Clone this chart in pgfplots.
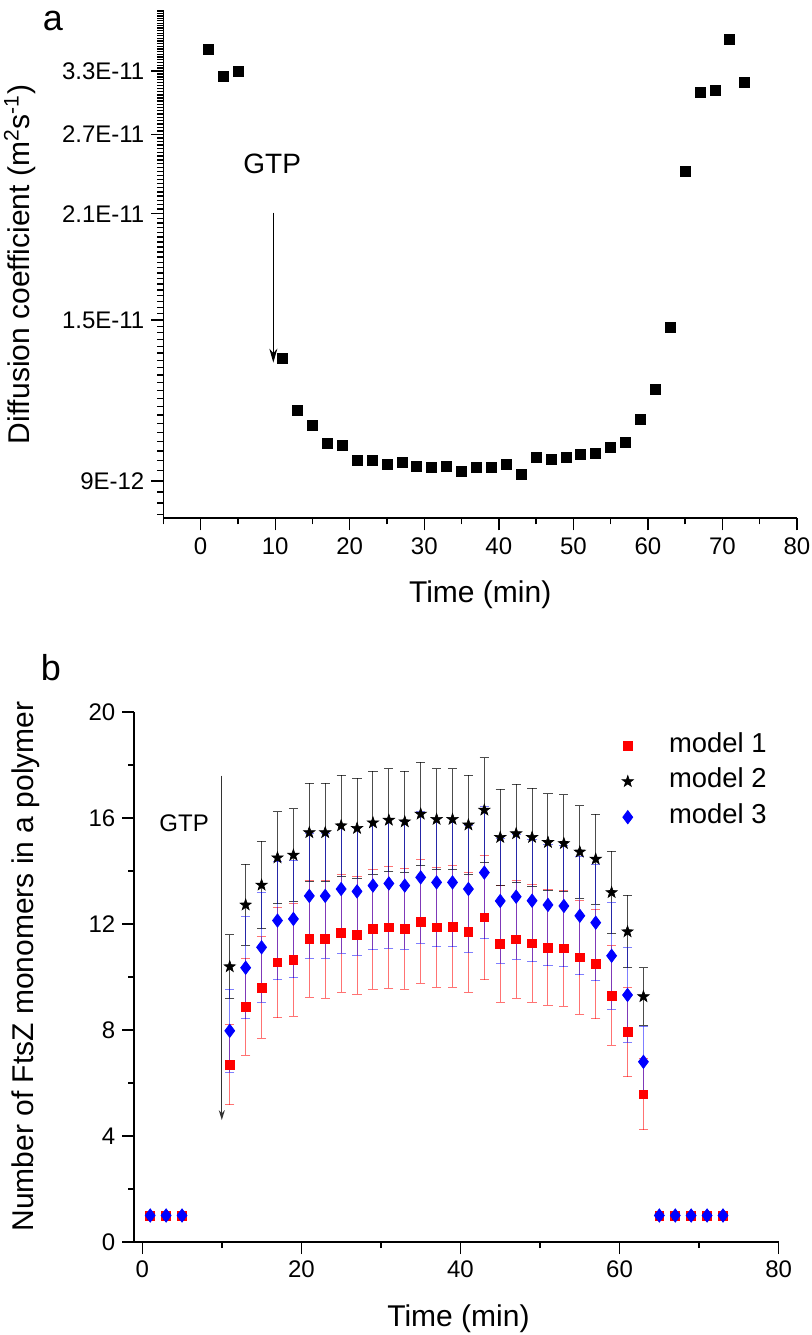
\documentclass[border=0pt]{standalone}
\usepackage{fontspec}
\setmainfont{Liberation Sans}
\usepackage{pgfplots}
\usepackage{pgfplotstable}
\pgfplotsset{compat=1.18}
\usetikzlibrary{arrows.meta}

\pgfdeclareplotmark{fstar}{%
  \pgfpathmoveto{\pgfpointpolar{90}{\pgfplotmarksize}}%
  \pgfpathlineto{\pgfpointpolar{126}{0.4\pgfplotmarksize}}%
  \pgfpathlineto{\pgfpointpolar{162}{\pgfplotmarksize}}%
  \pgfpathlineto{\pgfpointpolar{198}{0.4\pgfplotmarksize}}%
  \pgfpathlineto{\pgfpointpolar{234}{\pgfplotmarksize}}%
  \pgfpathlineto{\pgfpointpolar{270}{0.4\pgfplotmarksize}}%
  \pgfpathlineto{\pgfpointpolar{306}{\pgfplotmarksize}}%
  \pgfpathlineto{\pgfpointpolar{342}{0.4\pgfplotmarksize}}%
  \pgfpathlineto{\pgfpointpolar{18}{\pgfplotmarksize}}%
  \pgfpathlineto{\pgfpointpolar{54}{0.4\pgfplotmarksize}}%
  \pgfpathclose
  \pgfusepathqfillstroke
}

% Panel a: diffusion coefficient in units of 1E-12 m^2/s
\pgfplotstableread{
x y
1 35.3
3 32.45
5 32.94
11 13.29
13 11.26
15 10.74
17 10.14
19 10.08
21 9.62
23 9.62
25 9.50
27 9.54
29 9.44
31 9.41
33 9.44
35 9.28
37 9.40
39 9.40
41 9.50
43 9.20
45 9.71
47 9.64
49 9.71
51 9.80
53 9.83
55 10.02
57 10.16
59 10.95
61 12.05
63 14.67
65 24.0
67 30.8
69 31.0
71 36.5
73 31.8
}\dataA

% Panel b: model values and error bars
\pgfplotstableread{
x y1 e1 y2 e2 y3 e3
11 6.68 1.51 10.39 1.21 7.97 1.57
13 8.87 1.83 12.72 1.53 10.35 1.93
15 9.60 1.91 13.47 1.65 11.12 2.08
17 10.55 2.08 14.50 1.74 12.13 2.23
19 10.64 2.12 14.60 1.75 12.19 2.22
21 11.43 2.20 15.45 1.86 13.06 2.36
23 11.43 2.23 15.45 1.86 13.06 2.36
25 11.65 2.23 15.71 1.90 13.32 2.43
27 11.58 2.23 15.61 1.89 13.23 2.40
29 11.80 2.27 15.82 1.95 13.45 2.43
31 11.87 2.30 15.92 1.94 13.53 2.45
33 11.82 2.29 15.86 1.91 13.45 2.41
35 12.09 2.33 16.15 1.95 13.76 2.49
37 11.87 2.26 15.95 1.91 13.57 2.42
39 11.90 2.29 15.95 1.91 13.57 2.42
41 11.69 2.27 15.74 1.87 13.32 2.38
43 12.25 2.35 16.30 1.98 13.94 2.50
45 11.25 2.21 15.27 1.82 12.87 2.35
47 11.42 2.22 15.41 1.86 13.03 2.36
49 11.27 2.23 15.27 1.85 12.88 2.31
51 11.11 2.18 15.08 1.83 12.72 2.29
53 11.08 2.19 15.04 1.83 12.68 2.29
55 10.74 2.14 14.72 1.75 12.31 2.22
57 10.49 2.07 14.45 1.70 12.05 2.19
59 9.30 1.88 13.19 1.56 10.80 2.01
61 7.92 1.68 11.71 1.37 9.32 1.79
63 5.57 1.34 9.26 1.08 6.80 1.34
}\dataB

\pgfplotstableread{
x y
1 1
3 1
5 1
65 1
67 1
69 1
71 1
73 1
}\dataBase

\pgfplotsset{
  every axis/.append style={
    scale only axis,
    axis x line=bottom, axis y line=left,
    axis line style={-, line width=0.8pt, black},
    tick align=outside,
    major tick length=6pt, minor tick length=3pt,
    tick style={line width=0.7pt, black},
    tick label style={font=\fontsize{12}{14}\selectfont},
    label style={font=\fontsize{15}{18}\selectfont},
    /pgf/number format/assume math mode=true,
    clip=false,
  }
}

\begin{document}
\begin{tikzpicture}
\useasboundingbox (0,0) rectangle (406pt,667.5pt);

% ---------------- panel a ----------------
\begin{axis}[
  at={(81.7pt,408.35pt)}, anchor=south west,
  width=316.8pt, height=254pt,
  xmin=-5, xmax=80,
  ymode=log, ymin=8, ymax=40,
  xtick={0,10,...,80}, minor xtick={-5,5,...,75},
  ytick={9,15,21,27,33},
  yticklabels={9E-12,1.5E-11,2.1E-11,2.7E-11,3.3E-11},
  minor ytick={8.1,8.4,8.7,9.3,9.6,9.9,10.2,10.5,10.8,11.1,11.4,11.7,12,12.3,12.6,12.9,13.2,13.5,13.8,14.1,14.4,14.7,15.3,15.6,15.9,16.2,16.5,16.8,17.1,17.4,17.7,18,18.3,18.6,18.9,19.2,19.5,19.8,20.1,20.4,20.7,21.3,21.6,21.9,22.2,22.5,22.8,23.1,23.4,23.7,24,24.3,24.6,24.9,25.2,25.5,25.8,26.1,26.4,26.7,27.3,27.6,27.9,28.2,28.5,28.8,29.1,29.4,29.7,30,30.3,30.6,30.9,31.2,31.5,31.8,32.1,32.4,32.7,33.3,33.6,33.9,34.2,34.5,34.8,35.1,35.4,35.7,36,36.3,36.6,36.9,37.2,37.5,37.8,38.1,38.4,38.7,39,39.3,39.6,39.9},
  xlabel={Time (min)},
  ylabel={Diffusion coefficient (m\textsuperscript{2}s\textsuperscript{-1})},
  xlabel style={at={(axis description cs:0.5,-0.165)}, anchor=base},
  ylabel style={at={(axis description cs:-0.212,0.5)}, anchor=base},
]
\addplot[only marks, mark=square*, mark size=2.5pt, mark options={fill=black, draw=black}]
  table[x=x, y=y] {\dataA};
\node[font=\fontsize{14}{16}\selectfont] at (axis cs:9.6,24.6) {GTP};
\draw[-{Stealth[length=7pt,width=4pt]}, line width=0.5pt] (axis cs:9.75,21.07) -- (axis cs:9.75,13.1);
\end{axis}

% ---------------- panel b ----------------
\begin{axis}[
  at={(67.15pt,46.5pt)}, anchor=south west,
  width=322.2pt, height=265pt,
  xmin=-1, xmax=80, ymin=0, ymax=20,
  xtick={0,20,...,80}, minor xtick={10,30,50,70},
  ytick={0,4,...,20}, minor ytick={2,6,...,18},
  xlabel={Time (min)},
  ylabel={Number of FtsZ monomers in a polymer},
  xlabel style={at={(axis description cs:0.503,-0.16)}, anchor=base},
  ylabel style={at={(axis description cs:-0.157,0.52)}, anchor=base},
  legend style={draw=none, fill=none, inner sep=0pt, outer sep=0pt,
    at={(0.9812,0.9617)}, anchor=north east,
    font=\fontsize{13.7}{16}\selectfont, row sep=4.35pt,
    /tikz/every odd column/.append style={column sep=17.8pt},
    nodes={inner sep=0pt, outer sep=0pt, text height=10pt, text depth=3.5pt,
      font=\fontsize{13.7}{16}\selectfont}},
  legend cell align=left,
]
\addplot[only marks, mark=square*, mark size=2.2pt, red,
  mark options={fill=red, draw=red},
  error bars/.cd, y dir=both, y explicit,
  error bar style={red, opacity=0.55, line width=0.5pt},
  error mark options={rotate=90, mark size=2.3pt, red, opacity=0.55, line width=0.5pt}]
  table[x=x, y=y1, y error=e1] {\dataB};
\addlegendentry{model 1}
\addplot[only marks, mark=fstar, mark size=3pt, black,
  mark options={fill=black, draw=black, line width=0.3pt},
  error bars/.cd, y dir=both, y explicit,
  error bar style={black, opacity=0.7, line width=0.5pt},
  error mark options={rotate=90, mark size=2.3pt, black, opacity=0.7, line width=0.5pt}]
  table[x=x, y=y2, y error=e2] {\dataB};
\addlegendentry{model 2}
\addplot[only marks, mark=diamond*, mark size=3.3pt, blue,
  mark options={fill=blue, draw=blue},
  error bars/.cd, y dir=both, y explicit,
  error bar style={blue, opacity=0.5, line width=0.5pt},
  error mark options={rotate=90, mark size=2.3pt, blue, opacity=0.5, line width=0.5pt}]
  table[x=x, y=y3, y error=e3] {\dataB};
\addlegendentry{model 3}
\addplot[forget plot, only marks, mark=square*, mark size=2.2pt, mark options={fill=red, draw=red}]
  table[x=x, y=y] {\dataBase};
\addplot[forget plot, only marks, mark=fstar, mark size=2pt, mark options={fill=black, draw=black}]
  table[x=x, y=y] {\dataBase};
\addplot[forget plot, only marks, mark=diamond*, mark size=3.3pt, mark options={fill=blue, draw=blue}]
  table[x=x, y=y] {\dataBase};
\node[font=\fontsize{12}{14}\selectfont] at (axis cs:5.26,15.8) {GTP};
\draw[-{Stealth[length=5pt,width=3pt]}, line width=0.5pt, black!80] (axis cs:10,17.6) -- (axis cs:10,4.6);
\end{axis}

\node[font=\fontsize{18}{20}\selectfont, inner sep=0pt, anchor=center] at (26.5pt,657pt) {a};
\node[font=\fontsize{18}{20}\selectfont, inner sep=0pt, anchor=center] at (25.5pt,333.5pt) {b};
\end{tikzpicture}
\end{document}
